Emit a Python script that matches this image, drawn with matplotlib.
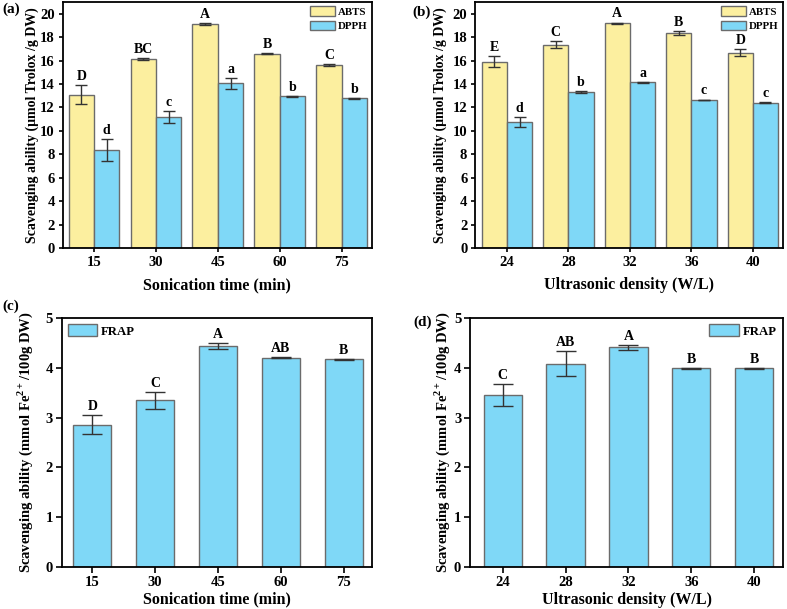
import numpy as np
import matplotlib
matplotlib.use('Agg')
import matplotlib.pyplot as plt

plt.rcParams['font.family'] = ['Liberation Serif', 'DejaVu Serif']
plt.rcParams['font.weight'] = 'bold'
plt.rcParams['axes.labelweight'] = 'bold'
plt.rcParams['mathtext.fontset'] = 'custom'
plt.rcParams['mathtext.rm'] = 'Liberation Serif:bold'
plt.rcParams['mathtext.bf'] = 'Liberation Serif:bold'

# datos
tiempo = ['15', '30', '45', '60', '75']
densidad = ['24', '28', '32', '36', '40']

abts_tiempo = [13.1, 16.15, 19.1, 16.6, 15.65]
abts_tiempo_err = [0.85, 0.08, 0.08, 0.08, 0.08]
dpph_tiempo = [8.35, 11.2, 14.05, 12.95, 12.8]
dpph_tiempo_err = [0.95, 0.5, 0.45, 0.04, 0.04]
letras_abts_tiempo = ['D', 'BC', 'A', 'B', 'C']
letras_dpph_tiempo = ['d', 'c', 'a', 'b', 'b']

abts_dens = [15.9, 17.35, 19.2, 18.35, 16.65]
abts_dens_err = [0.45, 0.3, 0.05, 0.2, 0.3]
dpph_dens = [10.75, 13.3, 14.15, 12.65, 12.4]
dpph_dens_err = [0.4, 0.06, 0.03, 0.02, 0.03]
letras_abts_dens = ['E', 'C', 'A', 'B', 'D']
letras_dpph_dens = ['d', 'b', 'a', 'c', 'c']

frap_tiempo = [2.86, 3.35, 4.44, 4.2, 4.17]
frap_tiempo_err = [0.19, 0.17, 0.06, 0.01, 0.01]
letras_frap_tiempo = ['D', 'C', 'A', 'AB', 'B']

frap_dens = [3.45, 4.08, 4.41, 3.99, 3.99]
frap_dens_err = [0.22, 0.25, 0.05, 0.01, 0.01]
letras_frap_dens = ['C', 'AB', 'A', 'B', 'B']

AMARILLO = '#fcef9f'
AZUL = '#7fd8f7'
BORDE = '#6b6b6b'
ERR = '#333333'

ylab_trolox = 'Scavenging ability (μmol Trolox /g DW)'
ylab_frap = 'Scavenging ability (mmol Fe$^{2+}$/100g DW)'


def estilo(ax, etiquetas, xlabel, ylabel, ylim, ticks_y, ysize, ypos, largo, pad):
    x = np.arange(1, len(etiquetas) + 1)
    ax.set_xticks(x)
    ax.set_xticklabels(etiquetas)
    ax.set_ylim(*ylim)
    ax.set_yticks(ticks_y)
    ax.set_xlabel(xlabel, fontsize=11.5, labelpad=6)
    ax.set_ylabel(ylabel, fontsize=ysize)
    ax.yaxis.set_label_coords(ypos, 0.5)
    ax.tick_params(axis='both', direction='out', length=largo, width=1.2, pad=pad, labelsize=10.5)
    for lab in ax.get_xticklabels() + ax.get_yticklabels():
        lab.set_fontweight('bold')
    for s in ax.spines.values():
        s.set_linewidth(1.3)


def letras(ax, x, vals, errs, textos):
    for xi, v, e, t in zip(x, vals, errs, textos):
        ax.annotate(t, (xi, v + e), xytext=(0, 1.5), textcoords='offset points',
                    ha='center', va='bottom', fontsize=10, fontweight='bold')


def doble(ax, etiquetas, v1, e1, v2, e2, l1, l2, xlabel, xlim, ypos):
    x = np.arange(1, len(etiquetas) + 1)
    w = 0.41
    ax.bar(x - w / 2, v1, w, color=AMARILLO, edgecolor=BORDE, linewidth=1, label='ABTS')
    ax.bar(x + w / 2, v2, w, color=AZUL, edgecolor=BORDE, linewidth=1, label='DPPH')
    ax.errorbar(x - w / 2, v1, yerr=e1, fmt='none', ecolor=ERR, elinewidth=1, capsize=4, capthick=1)
    ax.errorbar(x + w / 2, v2, yerr=e2, fmt='none', ecolor=ERR, elinewidth=1, capsize=4, capthick=1)
    letras(ax, x - w / 2, v1, e1, l1)
    letras(ax, x + w / 2, v2, e2, l2)
    estilo(ax, etiquetas, xlabel, ylab_trolox, (0, 21), np.arange(0, 21, 2), 10, ypos, 3, 2.5)
    ax.set_xlim(*xlim)
    ax.legend(loc='upper right', bbox_to_anchor=(1.0, 1.0), frameon=False, fontsize=7.8,
              handlelength=2.3, handleheight=0.95, handletextpad=0.3, labelspacing=0.35,
              borderaxespad=0.2, borderpad=0.2)


def simple(ax, etiquetas, v, e, l, xlabel, xlim, loc, ancla, ypos):
    x = np.arange(1, len(etiquetas) + 1)
    w = 0.61
    ax.bar(x, v, w, color=AZUL, edgecolor=BORDE, linewidth=1, label='FRAP')
    ax.errorbar(x, v, yerr=e, fmt='none', ecolor=ERR, elinewidth=1, capsize=7, capthick=1)
    letras(ax, x, v, e, l)
    estilo(ax, etiquetas, xlabel, ylab_frap, (0, 5), np.arange(0, 6, 1), 10.5, ypos, 4.3, 2)
    ax.xaxis.labelpad = 2
    ax.set_xlim(*xlim)
    ax.legend(loc=loc, bbox_to_anchor=ancla, frameon=False, fontsize=9.2, handlelength=2.3,
              handleheight=1.05, handletextpad=0.3, borderaxespad=0.3, borderpad=0.2)


fig = plt.figure(figsize=(7.87, 6.09), dpi=100)
ax_a = fig.add_axes([62.5 / 787, 361 / 609, 309.5 / 787, 246 / 609])
ax_b = fig.add_axes([475 / 787, 361 / 609, 308 / 787, 246 / 609])
ax_c = fig.add_axes([61.5 / 787, 42 / 609, 310.5 / 787, 249 / 609])
ax_d = fig.add_axes([470 / 787, 42 / 609, 313 / 787, 249 / 609])

doble(ax_a, tiempo, abts_tiempo, abts_tiempo_err, dpph_tiempo, dpph_tiempo_err,
      letras_abts_tiempo, letras_dpph_tiempo, 'Sonication time (min)', (0.49, 5.49), -0.077)
doble(ax_b, densidad, abts_dens, abts_dens_err, dpph_dens, dpph_dens_err,
      letras_abts_dens, letras_dpph_dens, 'Ultrasonic density (W/L)', (0.48, 5.49), -0.091)
simple(ax_c, tiempo, frap_tiempo, frap_tiempo_err, letras_frap_tiempo,
       'Sonication time (min)', (0.51, 5.45), 'upper left', (0.0, 1.0), -0.085)
simple(ax_d, densidad, frap_dens, frap_dens_err, letras_frap_dens,
       'Ultrasonic density (W/L)', (0.48, 5.46), 'upper right', (1.0, 1.0), -0.056)

for txt, (px, py) in zip(['(a)', '(b)', '(c)', '(d)'],
                         [(2, 9), (412, 12), (2, 306), (413, 322)]):
    fig.text(px / 787, 1 - py / 609, txt, fontsize=11, fontweight='bold', va='center', ha='left')

fig.savefig('out.png', dpi=100)
